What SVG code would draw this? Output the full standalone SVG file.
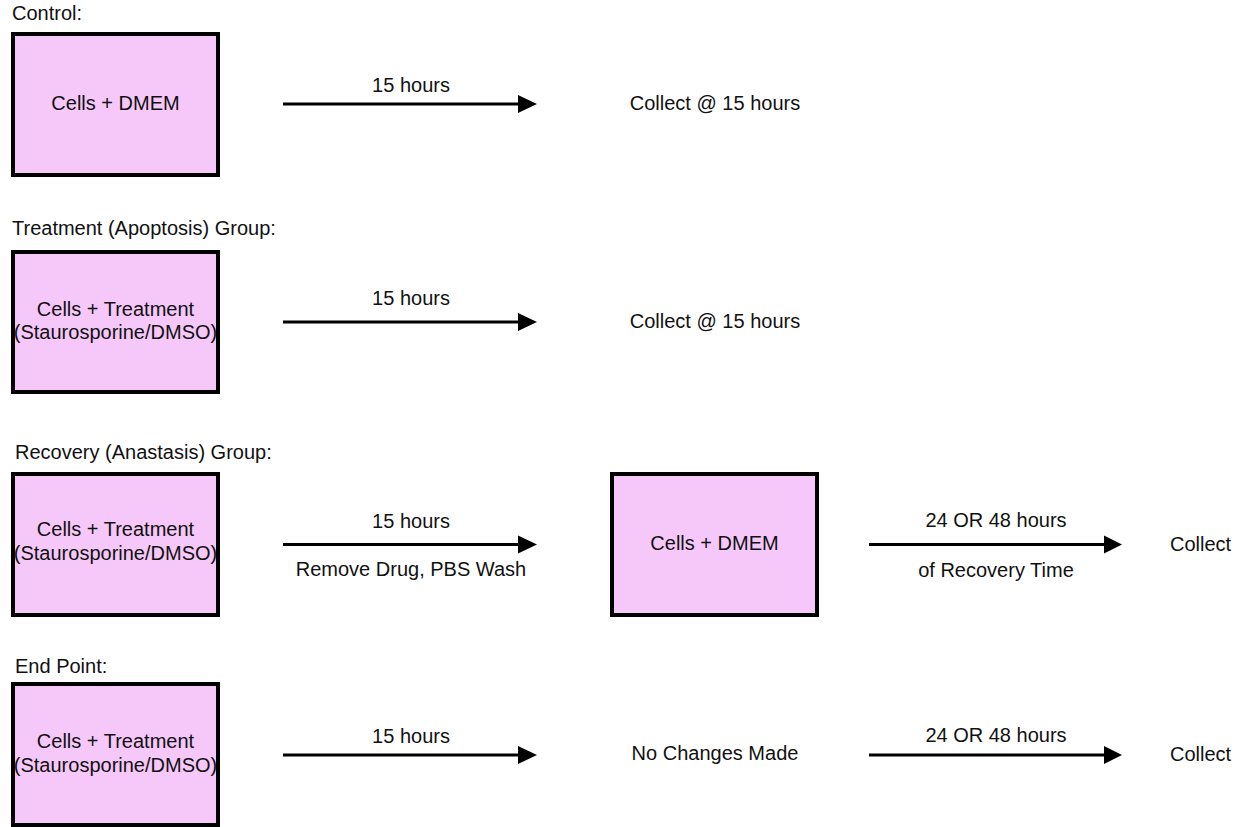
<svg xmlns="http://www.w3.org/2000/svg" width="1241" height="827" viewBox="0 0 1241 827">
<defs>
<style>
text{font-family:"Liberation Sans",Arial,Helvetica,sans-serif;font-size:20px;fill:#111;}
.c{text-anchor:middle;}
.box{fill:#f6c8fa;stroke:#000;stroke-width:4;}
.ln{stroke:#000;stroke-width:3;fill:none;}
.ah{fill:#000;}
</style>
</defs>
<rect width="1241" height="827" fill="#fff"/>
<g id="labels">
<text x="12" y="20">Control:</text>
<text x="12" y="235">Treatment (Apoptosis) Group:</text>
<text x="15" y="459">Recovery (Anastasis) Group:</text>
<text x="15" y="673">End Point:</text>
</g>
<g id="node-control">
<rect class="box" x="13" y="34" width="205" height="141"/>
<text class="c" x="115.5" y="110">Cells + DMEM</text>
</g>
<g id="node-treatment">
<rect class="box" x="13" y="252" width="205" height="140"/>
<text class="c" x="115.5" y="316">Cells + Treatment</text>
<text class="c" x="115.5" y="339">(Staurosporine/DMSO)</text>
</g>
<g id="node-recovery">
<rect class="box" x="13" y="474" width="205" height="141"/>
<text class="c" x="115.5" y="536">Cells + Treatment</text>
<text class="c" x="115.5" y="560">(Staurosporine/DMSO)</text>
</g>
<g id="node-recovery-dmem">
<rect class="box" x="612" y="474" width="205" height="141"/>
<text class="c" x="714.5" y="550">Cells + DMEM</text>
</g>
<g id="node-endpoint">
<rect class="box" x="13" y="684" width="205" height="141"/>
<text class="c" x="115.5" y="748">Cells + Treatment</text>
<text class="c" x="115.5" y="772">(Staurosporine/DMSO)</text>
</g>
<g id="node-collect1"><text class="c" x="715" y="110">Collect @ 15 hours</text></g>
<g id="node-collect2"><text class="c" x="715" y="328">Collect @ 15 hours</text></g>
<g id="node-collect3"><text x="1170" y="551">Collect</text></g>
<g id="node-nochange"><text class="c" x="715" y="760">No Changes Made</text></g>
<g id="node-collect4"><text x="1170" y="761">Collect</text></g>
<g id="connectors">
<line class="ln" x1="283" y1="104" x2="520" y2="104"/>
<polygon class="ah" points="518,95 537,104 518,113"/>
<text class="c" x="411" y="92">15 hours</text>

<line class="ln" x1="283" y1="322" x2="520" y2="322"/>
<polygon class="ah" points="518,313 537,322 518,331"/>
<text class="c" x="411" y="305">15 hours</text>

<line class="ln" x1="283" y1="544.5" x2="520" y2="544.5"/>
<polygon class="ah" points="518,535.5 537,544.5 518,553.5"/>
<text class="c" x="411" y="528">15 hours</text>
<text class="c" x="411" y="576">Remove Drug, PBS Wash</text>

<line class="ln" x1="869" y1="544.5" x2="1106" y2="544.5"/>
<polygon class="ah" points="1104,535.5 1122,544.5 1104,553.5"/>
<text class="c" x="996" y="527">24 OR 48 hours</text>
<text class="c" x="996" y="577">of Recovery Time</text>

<line class="ln" x1="283" y1="755" x2="520" y2="755"/>
<polygon class="ah" points="518,746 537,755 518,764"/>
<text class="c" x="411" y="743">15 hours</text>

<line class="ln" x1="869" y1="755" x2="1106" y2="755"/>
<polygon class="ah" points="1104,746 1122,755 1104,764"/>
<text class="c" x="996" y="742">24 OR 48 hours</text>
</g>
</svg>
